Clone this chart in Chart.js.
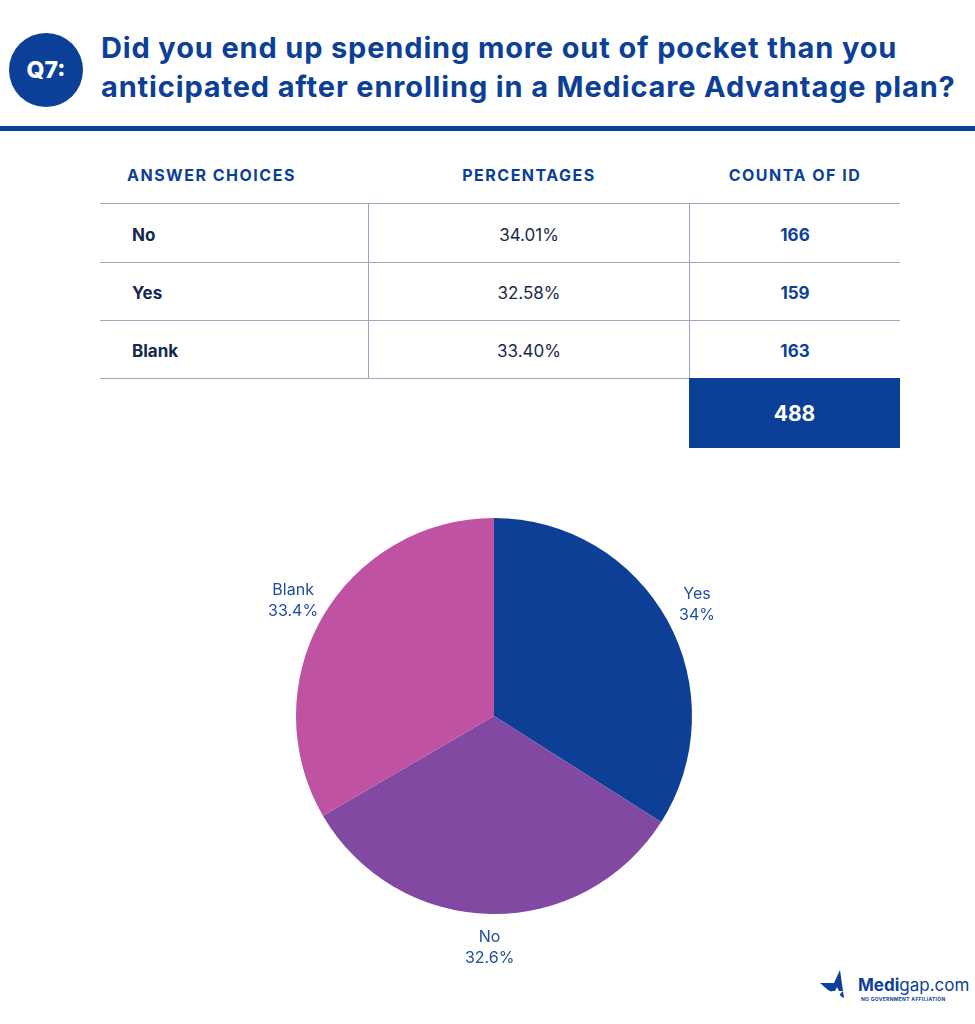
<!DOCTYPE html>
<html>
<head>
<meta charset="utf-8">
<script src="https://cdn.jsdelivr.net/npm/chart.js@4"></script>
<style>
  body { margin: 0; background: #fff; font-family: Inter, "Open Sans", sans-serif; }
  #page { position: relative; width: 975px; height: 1024px; overflow: hidden; }
  .abs { position: absolute; }
  #badge { left: 9px; top: 33px; width: 74px; height: 74px; border-radius: 50%; background: #0c3f97;
           color: #fff; font-weight: 800; font-size: 23px; display: flex; align-items: center; justify-content: center; }
  #title { left: 101px; top: 28px; color: #0c3f97; font-weight: 700; font-size: 29px; line-height: 39px; white-space: nowrap; letter-spacing: 0.85px; }
  #rule { left: 0; top: 126px; width: 975px; height: 5px; background: #0c3f97; }
  .hdr { top: 165px; color: #0c3f97; font-weight: 700; font-size: 16px; letter-spacing: 1.5px; white-space: nowrap; }
  .hl { left: 100px; width: 800px; height: 1px; background: #9aa6c2; }
  .vl { width: 1px; height: 175px; top: 203px; background: #9aa6c2; }
  .cell { font-size: 17px; white-space: nowrap; transform: translate(-50%, -50%); }
  .lab { left: 132px; font-weight: 700; color: #14284f; font-size: 17px; transform: translateY(-50%); }
  .pct { color: #1b2a4a; }
  .cnt { color: #0c3f97; font-weight: 700; }
  #total { left: 689px; top: 378px; width: 211px; height: 70px; background: #0c3f97; color: #fff;
           font-weight: 700; font-size: 21px; display: flex; align-items: center; justify-content: center; }
  #chartBox { left: 194px; top: 466px; width: 600px; height: 500px; }
  #logo { left: 820px; top: 968px; }
</style>
</head>
<body>
<div id="page">
  <div id="badge" class="abs">Q7:</div>
  <div id="title" class="abs">Did you end up spending more out of pocket than you<br>anticipated after enrolling in a Medicare Advantage plan?</div>
  <div id="rule" class="abs"></div>
  <div id="table"></div>
  <div id="total" class="abs"></div>
  <div id="chartBox" class="abs"><canvas id="pie" width="600" height="500"></canvas></div>
  <div id="logo" class="abs">
    <svg width="40" height="30" viewBox="0 0 40 30" style="position:absolute;left:0;top:2px">
      <polygon points="0,13 14,13 20,0 24,28 8,20" fill="#0c3f97"/>
      <polygon points="17,17 19,21 23,21 20,24 21,28 17,25 13,28 14,24 11,21 15,21" fill="#fff"/>
    </svg>
    <div style="position:absolute;left:38px;top:7px;font-size:17px;color:#0c3f97;white-space:nowrap"><b>Medi</b>gap.com</div>
    <div style="position:absolute;left:41px;top:28px;font-size:5px;font-weight:700;color:#0c3f97;white-space:nowrap;letter-spacing:0.3px">NO GOVERNMENT AFFILIATION</div>
  </div>
</div>
<script>
// table data
const answerChoices = ["No", "Yes", "Blank"];
const percentages = ["34.01%", "32.58%", "33.40%"];
const counts = [166, 159, 163];
const total = 488;

// pie data (as labelled on the pie)
const pieLabels = ["Yes", "No", "Blank"];
const pieValues = [34, 32.6, 33.4];
const pieText = ["34%", "32.6%", "33.4%"];
const pieColors = ["#0d3f97", "#8149a1", "#c052a3"];

const table = document.getElementById("table");
function add(cls, style, text) {
    const d = document.createElement("div");
    d.className = "abs " + cls;
    d.style.cssText = style;
    d.textContent = text;
    table.appendChild(d);
}
add("hdr", "left:127px", "ANSWER CHOICES");
add("hdr", "left:529px;transform:translateX(-50%)", "PERCENTAGES");
add("hdr", "left:795px;transform:translateX(-50%)", "COUNTA OF ID");
[203, 262, 320, 378].forEach(y => add("hl", "top:" + y + "px", ""));
[368, 689].forEach(x => add("vl", "left:" + x + "px", ""));
answerChoices.forEach((a, i) => {
    const y = 235 + i * 58;
    add("lab", "top:" + y + "px", a);
    add("cell pct", "left:529px;top:" + y + "px", percentages[i]);
    add("cell cnt", "left:795px;top:" + y + "px", counts[i]);
});
document.getElementById("total").textContent = total;

const outerLabels = {
    id: "outerLabels",
    afterDatasetsDraw(chart) {
        const ctx = chart.ctx;
        const arcs = chart.getDatasetMeta(0).data;
        ctx.save();
        ctx.fillStyle = "#1f4c9e";
        ctx.font = "16px Inter, 'Open Sans', sans-serif";
        ctx.textAlign = "center";
        ctx.textBaseline = "middle";
        arcs.forEach((arc, i) => {
            const p = arc.getProps(["x", "y", "startAngle", "endAngle", "outerRadius"], true);
            const mid = (p.startAngle + p.endAngle) / 2;
            const r = p.outerRadius * 1.17;
            const x = p.x + Math.cos(mid) * r;
            const y = p.y + Math.sin(mid) * r;
            ctx.fillText(pieLabels[i], x, y - 10);
            ctx.fillText(pieText[i], x, y + 11);
        });
        ctx.restore();
    }
};

new Chart(document.getElementById("pie"), {
    type: "pie",
    data: {
        labels: pieLabels,
        datasets: [{
            data: pieValues,
            backgroundColor: pieColors,
            borderWidth: 0
        }]
    },
    options: {
        responsive: false,
        animation: false,
        layout: { padding: { top: 52, bottom: 52 } },
        plugins: { legend: { display: false }, tooltip: { enabled: false } }
    },
    plugins: [outerLabels]
});
</script>
</body>
</html>
